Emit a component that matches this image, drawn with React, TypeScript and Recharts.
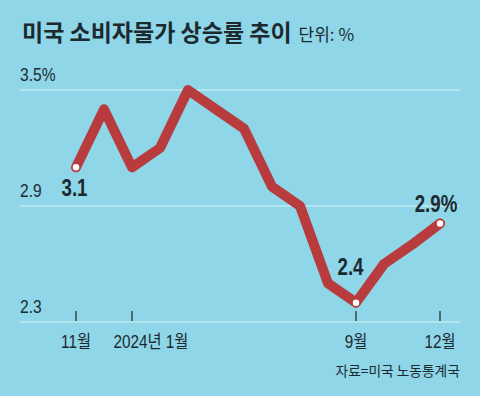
import React from 'react';
import { LineChart, Line, XAxis, YAxis, CartesianGrid, LabelList } from 'recharts';

const months = ['11월', '12월', '2024년 1월', '2월', '3월', '4월', '5월', '6월', '7월', '8월', '9월', '10월', '11월', '12월'];
const cpi = [3.1, 3.4, 3.1, 3.2, 3.5, 3.4, 3.3, 3.0, 2.9, 2.5, 2.4, 2.6, 2.7, 2.81];
const pointLabels = ['3.1', '', '', '', '', '', '', '', '', '', '2.4', '', '', '2.9%'];
const xTickIdx = [0, 2, 10, 13];
const yTicks = [2.3, 2.9, 3.5];
const yTickLabels = ['2.3', '2.9', '3.5%'];

const title = '미국 소비자물가 상승률 추이';
const unit = '단위: %';
const source = '자료=미국 노동통계국';

const data = cpi.map((v, i) => ({ i, v, month: months[i], label: pointLabels[i] }));

const BG = '#8fd6e8';
const GRID = '#b4e4f0';
const RED = '#b83b3d';
const TXT = '#1c2a30';
const NUM_FONT = "'Liberation Sans', 'Noto Sans CJK KR', sans-serif";
const KR_FONT = "'Noto Sans CJK KR', sans-serif";

const labelOffsets: Record<number, [number, number]> = {
  0: [-1.5, 29],
  10: [-5.5, -28],
  13: [-4, -11],
};
const tickLabelShift: Record<number, number> = { 2: 19 };

const XTick = (props: any) => {
  const { x, y, payload } = props;
  const dx = tickLabelShift[payload.value] || 0;
  return (
    <g>
      <line x1={x} x2={x} y1={y - 11} y2={y - 1} stroke="#4d6a73" strokeWidth={2} />
      <g transform={`translate(${x + dx},${y + 26}) scale(0.85,1)`}>
        <text x={0} y={0} textAnchor="middle" fill={TXT} fontSize={18} fontFamily={NUM_FONT}>
          {months[payload.value]}
        </text>
      </g>
    </g>
  );
};

const YTick = (props: any) => {
  const { y, payload } = props;
  const idx = yTicks.indexOf(payload.value);
  return (
    <g transform={`translate(20,${y - 9}) scale(0.82,1)`}>
      <text x={0} y={0} textAnchor="start" fill={TXT} fontSize={19} fontFamily={NUM_FONT}>
        {yTickLabels[idx]}
      </text>
    </g>
  );
};

const PointLabel = (props: any) => {
  const { x, y, value, index } = props;
  if (!value) return null;
  const off = labelOffsets[index] || [0, -12];
  return (
    <g transform={`translate(${x + off[0]},${y + off[1]}) scale(0.78,1)`}>
      <text x={0} y={0} textAnchor="middle" fill={TXT} fontSize={24} fontWeight="bold" fontFamily={NUM_FONT}>
        {value}
      </text>
    </g>
  );
};

const Dot = (props: any) => {
  const { cx, cy, index } = props;
  if (!pointLabels[index]) return <g key={`d${index}`} />;
  return <circle key={`d${index}`} cx={cx} cy={cy} r={4} fill="#ffffff" stroke={RED} strokeWidth={1.5} />;
};

export default function App() {
  return (
    <div style={{ position: 'absolute', left: 0, top: 0, width: 480, height: 396, background: BG, overflow: 'hidden' }}>
      <div
        style={{
          position: 'absolute',
          left: 22,
          top: 16,
          whiteSpace: 'nowrap',
          fontFamily: KR_FONT,
          color: TXT,
          lineHeight: '30px',
        }}
      >
        <span style={{ fontSize: 23, fontWeight: 700 }}>{title}</span>
        <span style={{ fontSize: 17, fontWeight: 400, marginLeft: 7 }}>{unit}</span>
      </div>
      <LineChart width={480} height={396} data={data} margin={{ top: 90, right: 20, bottom: 0, left: 19 }}>
        <CartesianGrid horizontal vertical={false} stroke={GRID} strokeWidth={2} />
        <XAxis
          dataKey="i"
          type="number"
          domain={[0, 13]}
          ticks={xTickIdx}
          padding={{ left: 56, right: 20 }}
          height={74}
          axisLine={false}
          tickLine={false}
          tickSize={0}
          tickMargin={0}
          interval={0}
          tick={<XTick />}
        />
        <YAxis
          type="number"
          domain={[2.3, 3.5]}
          ticks={yTicks}
          width={1}
          axisLine={false}
          tickLine={false}
          tick={<YTick />}
          interval={0}
        />
        <Line
          type="linear"
          dataKey="v"
          stroke={RED}
          strokeWidth={10}
          strokeLinejoin="round"
          strokeLinecap="round"
          dot={Dot}
          activeDot={false}
          isAnimationActive={false}
        >
          <LabelList dataKey="label" content={<PointLabel />} />
        </Line>
      </LineChart>
      <div
        style={{
          position: 'absolute',
          right: 20,
          top: 361,
          fontFamily: KR_FONT,
          fontSize: 14,
          color: TXT,
          whiteSpace: 'nowrap',
          transform: 'scaleX(0.98)',
          transformOrigin: 'right top',
          lineHeight: '18px',
        }}
      >
        {source}
      </div>
    </div>
  );
}
